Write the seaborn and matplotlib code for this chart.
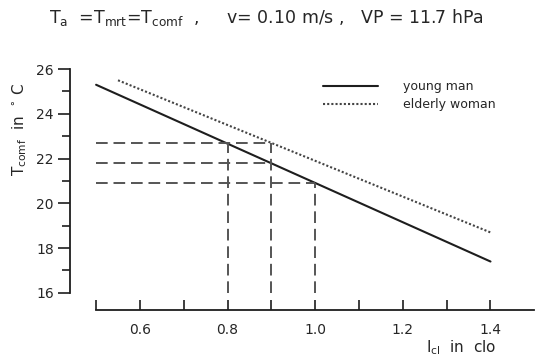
import numpy as np
import pandas as pd
import matplotlib
matplotlib.use("Agg")
import matplotlib.pyplot as plt
import seaborn as sns

# Data
clo_young = [0.5, 1.4]
t_young = [25.3, 17.4]
clo_elderly = [0.55, 1.4]
t_elderly = [25.5, 18.7]
# reference (dashed) readings: clo value and comfort temperature
ref_clo = [0.8, 0.9, 1.0]
ref_top = [22.7, 22.7, 20.9]      # where each vertical dashed line starts
ref_h_temp = [22.7, 21.8, 20.9]   # horizontal dashed lines
ref_h_end = [0.9, 0.9, 1.0]       # where each horizontal dashed line ends
x_start = 0.5
y_bottom = 16
series = ["young man", "elderly woman"]

sns.set_style("white")
plt.rcParams['font.family'] = ['DejaVu Sans']

df = pd.concat([
    pd.DataFrame({"clo": clo_young, "T": t_young, "who": series[0]}),
    pd.DataFrame({"clo": clo_elderly, "T": t_elderly, "who": series[1]}),
])

fig = plt.figure(figsize=(5.37, 3.58), dpi=100)
ax = fig.add_axes([0.130, 0.182, 0.865, 0.625])

ink = "#1e1e1e"
sns.lineplot(data=df, x="clo", y="T", hue="who", style="who",
             palette={series[0]: ink, series[1]: "#444444"},
             dashes={series[0]: "", series[1]: (1, 1)},
             linewidth=1.5, ax=ax, legend=True)

dash_kw = dict(color="#555555", lw=1.4, dashes=(6, 3))
for yv, xe in zip(ref_h_temp, ref_h_end):
    ax.plot([x_start, xe], [yv, yv], **dash_kw)
for xv, yt in zip(ref_clo, ref_top):
    ax.plot([xv, xv], [y_bottom, yt], **dash_kw)

ax.set_xlim(0.44, 1.5)
ax.set_ylim(16, 26)

# spines
for s in ["top", "right"]:
    ax.spines[s].set_visible(False)
ax.spines["left"].set_color(ink)
ax.spines["left"].set_linewidth(1.3)
ax.spines["bottom"].set_color(ink)
ax.spines["bottom"].set_linewidth(1.3)
ax.spines["bottom"].set_position(("outward", 12))
ax.spines["bottom"].set_bounds(0.5, 1.5)

ax.set_yticks([16, 18, 20, 22, 24, 26])
ax.set_yticks([17, 19, 21, 23, 25], minor=True)
ax.tick_params(axis="y", which="major", direction="out", length=8.5, width=1.2,
               color=ink, labelsize=10, pad=3, left=True)
ax.tick_params(axis="y", which="minor", direction="out", length=6, width=1.2,
               color=ink, left=True)

ax.set_xticks([0.6, 0.8, 1.0, 1.2, 1.4])
ax.set_xticklabels(["0.6", "0.8", "1.0", "1.2", "1.4"])
ax.set_xticks([0.5, 0.7, 0.9, 1.1, 1.3], minor=True)
ax.tick_params(axis="x", which="both", direction="in", length=7.5, width=1.2,
               color=ink, labelsize=10, pad=10, bottom=True)

ax.set_xlabel("")
ax.set_ylabel("")
fig.text(0.036, 0.64, r"T$_{\mathregular{comf}}$  in  $^{\circ}$ C", rotation=90,
         ha="center", va="center", fontsize=11)
ax.text(0.843, -0.245, r"I$_{\mathregular{cl}}$  in  clo", transform=ax.transAxes,
        ha="center", va="center", fontsize=11)

fig.text(0.497, 0.95,
         r"T$_{\mathregular{a}}$  =T$_{\mathregular{mrt}}$=T$_{\mathregular{comf}}$  ,     "
         r"v= 0.10 m/s ,   VP = 11.7 hPa",
         ha="center", va="center", fontsize=12.5)

leg = ax.legend(loc="upper left", bbox_to_anchor=(0.52, 1.0), frameon=False,
                fontsize=9, handlelength=4.4, handletextpad=2.0, labelspacing=0.4)
leg.set_title(None)

fig.savefig("out.png", dpi=100)
